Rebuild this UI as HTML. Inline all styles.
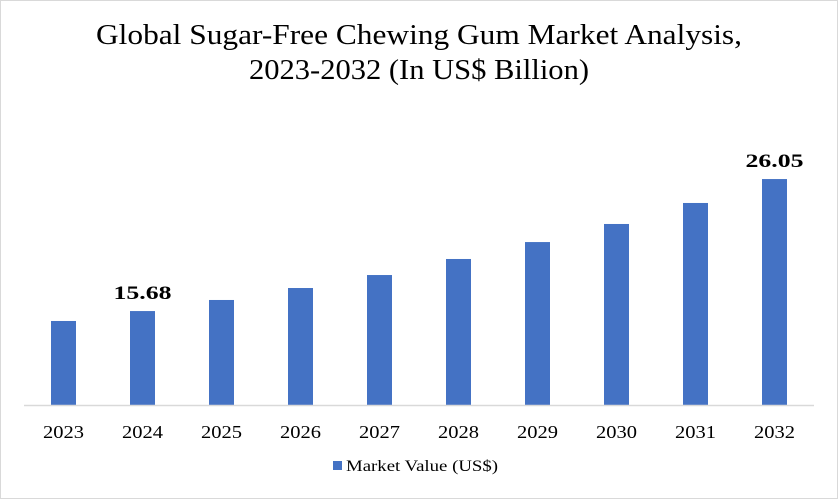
<!DOCTYPE html>
<html><head><meta charset="utf-8"><style>
body{margin:0;background:#fff;}
svg{display:block;font-family:"Liberation Serif",serif;}
</style></head><body>
<svg width="838" height="499">
<rect x="0.5" y="0.5" width="837" height="498" fill="#fff" stroke="#d9d9d9"/>
<text x="419" y="44" text-anchor="middle" font-size="28" textLength="646" lengthAdjust="spacingAndGlyphs" fill="#000">Global Sugar-Free Chewing Gum Market Analysis,</text>
<text x="419" y="79" text-anchor="middle" font-size="28" textLength="340" lengthAdjust="spacingAndGlyphs" fill="#000">2023-2032 (In US$ Billion)</text>
<g id="plot"></g>
<line x1="24" y1="405.5" x2="814" y2="405.5" stroke="#d9d9d9" stroke-width="1.5"/>
<rect x="333" y="461" width="9" height="9" fill="#4472c4"/>
<text x="346" y="471" font-size="16" textLength="152" lengthAdjust="spacingAndGlyphs" fill="#000">Market Value (US$)</text>
</svg>
<script>
const categories=["2023","2024","2025","2026","2027","2028","2029","2030","2031","2032"];
const values=[14.9,15.68,16.55,17.49,18.51,19.77,21.1,22.52,24.17,26.05];
const labels=["","15.68","","","","","","","","26.05"];
const left=24,step=79,base=405,vmin=8.3,scale=12.73,bw=25;
const xC=i=>left+step*(i+0.5);
const yV=v=>base-(v-vmin)*scale;
const g=document.getElementById('plot');
const NS="http://www.w3.org/2000/svg";
categories.forEach((c,i)=>{
  const r=document.createElementNS(NS,'rect');
  r.setAttribute('x',xC(i)-bw/2);r.setAttribute('y',yV(values[i]));
  r.setAttribute('width',bw);r.setAttribute('height',base-yV(values[i]));
  r.setAttribute('fill','#4472c4');
  
  
  g.appendChild(r);
  const t=document.createElementNS(NS,'text');
  t.setAttribute('x',xC(i));t.setAttribute('y',438);
  t.setAttribute('text-anchor','middle');t.setAttribute('font-size','18');
  t.setAttribute('textLength','41');t.setAttribute('lengthAdjust','spacingAndGlyphs');
  t.textContent=c;
  
  
  g.appendChild(t);
  if(labels[i]){
    const l=document.createElementNS(NS,'text');
    l.setAttribute('x',xC(i));l.setAttribute('y',yV(values[i])-12);
    l.setAttribute('text-anchor','middle');l.setAttribute('font-size','19');l.setAttribute('font-weight','bold');
    l.setAttribute('textLength','58');l.setAttribute('lengthAdjust','spacingAndGlyphs');
    l.textContent=labels[i];
    
    
    g.appendChild(l);
  }
});
</script>
</body></html>
